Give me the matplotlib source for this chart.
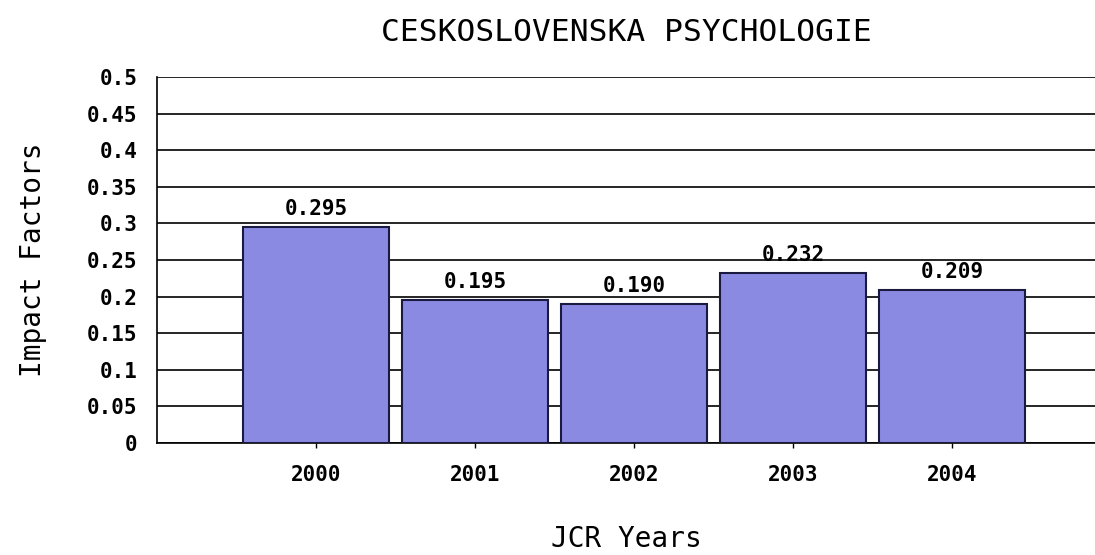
import matplotlib.pyplot as plt

# chart data
years = ["2000", "2001", "2002", "2003", "2004"]
impact = [0.295, 0.195, 0.190, 0.232, 0.209]
yticks = [0, 0.05, 0.1, 0.15, 0.2, 0.25, 0.3, 0.35, 0.4, 0.45, 0.5]
ytick_labels = ["0", "0.05", "0.1", "0.15", "0.2", "0.25", "0.3", "0.35", "0.4", "0.45", "0.5"]

plt.rcParams['font.family'] = ['DejaVu Sans Mono']

fig = plt.figure(figsize=(10.95, 5.55), dpi=100)
ax = fig.add_axes([0.1434, 0.2018, 0.8566, 0.6595])

x = list(range(len(years)))
ax.bar(x, impact, width=0.92, color='#8a8ae3', edgecolor='#1a1a40', linewidth=1.5, zorder=3)

# value labels above bars
for xi, v in zip(x, impact):
    ax.annotate("%.3f" % v, (xi, v), xytext=(0, 6), textcoords='offset points',
                ha='center', va='bottom', fontsize=15, fontweight='bold')

ax.set_xlim(-1, 4.9)
ax.set_ylim(0, 0.5)
ax.set_yticks(yticks)
ax.set_yticklabels(ytick_labels, fontsize=15, fontweight='bold')
ax.set_xticks(x)
ax.set_xticklabels(years, fontsize=15, fontweight='bold')
ax.tick_params(axis='y', length=0, pad=14)
ax.tick_params(axis='x', length=3.6, width=1, pad=12)

ax.yaxis.grid(True, color='black', linewidth=1.2, zorder=0)
ax.set_axisbelow(True)
for s in ['top', 'right']:
    ax.spines[s].set_visible(False)
ax.spines['left'].set_linewidth(1.2)
ax.spines['bottom'].set_linewidth(1.2)

ax.set_ylabel("Impact Factors", fontsize=20, labelpad=29)
ax.set_xlabel("JCR Years", fontsize=20, labelpad=29)
ax.set_title("CESKOSLOVENSKA PSYCHOLOGIE", fontsize=22.5, pad=26)

plt.savefig("out.png", dpi=100)
